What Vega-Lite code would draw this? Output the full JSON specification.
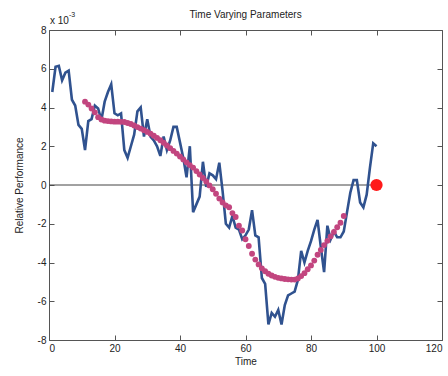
{
  "$schema": "https://vega.github.io/schema/vega-lite/v6.json",
  "width": 393,
  "height": 310,
  "autosize": {"type": "none"},
  "padding": {"left": 49, "top": 30, "right": 6, "bottom": 36},
  "background": "white",
  "config": {
    "font": "Liberation Sans",
    "view": {"stroke": "#555", "strokeWidth": 1},
    "axis": {
      "grid": false, "domain": false, "tickColor": "#555", "tickSize": -5,
      "labelFontSize": 10, "labelColor": "#222", "titleFontSize": 10,
      "titleFontWeight": "normal", "titleColor": "#222", "labelFont": "Liberation Sans", "titleFont": "Liberation Sans"
    }
  },
  "title": {"text": "Time Varying Parameters", "fontSize": 10, "fontWeight": "normal", "offset": -9, "anchor": "middle", "color": "#222", "font": "Liberation Sans"},
  "datasets": {
    "blue": [
      {"t":1,"v":4.8},{"t":2,"v":6.1},{"t":3,"v":6.15},{"t":4,"v":5.4},{"t":5,"v":5.8},{"t":6,"v":5.9},{"t":7,"v":4.4},{"t":8,"v":4.1},{"t":9,"v":3.1},{"t":10,"v":2.9},
      {"t":11,"v":1.8},{"t":12,"v":3.3},{"t":13,"v":3.4},{"t":14,"v":4.1},{"t":15,"v":3.95},{"t":16,"v":3.35},{"t":17,"v":4.3},{"t":18,"v":4.8},{"t":19,"v":5.2},{"t":20,"v":3.7},
      {"t":21,"v":3.6},{"t":22,"v":3.7},{"t":23,"v":1.8},{"t":24,"v":1.4},{"t":25,"v":2.0},{"t":26,"v":2.6},{"t":27,"v":3.8},{"t":28,"v":4.0},{"t":29,"v":2.5},{"t":30,"v":3.4},
      {"t":31,"v":2.5},{"t":32,"v":2.3},{"t":33,"v":2.0},{"t":34,"v":1.5},{"t":35,"v":2.5},{"t":36,"v":1.8},{"t":37,"v":2.3},{"t":38,"v":3.0},{"t":39,"v":3.0},{"t":40,"v":2.2},
      {"t":41,"v":1.4},{"t":42,"v":0.4},{"t":43,"v":2.0},{"t":44,"v":-1.4},{"t":45,"v":-1.0},{"t":46,"v":-0.6},{"t":47,"v":1.2},{"t":48,"v":-0.1},{"t":49,"v":0.6},{"t":50,"v":0.5},
      {"t":51,"v":0.3},{"t":52,"v":1.15},{"t":53,"v":-0.3},{"t":54,"v":-2.0},{"t":55,"v":-2.2},{"t":56,"v":-1.6},{"t":57,"v":-2.2},{"t":58,"v":-2.3},{"t":59,"v":-2.8},{"t":60,"v":-2.6},
      {"t":61,"v":-2.3},{"t":62,"v":-1.3},{"t":63,"v":-2.6},{"t":64,"v":-2.7},{"t":65,"v":-4.8},{"t":66,"v":-5.1},{"t":67,"v":-7.2},{"t":68,"v":-6.6},{"t":69,"v":-6.8},{"t":70,"v":-6.45},
      {"t":71,"v":-7.2},{"t":72,"v":-6.2},{"t":73,"v":-5.7},{"t":74,"v":-5.6},{"t":75,"v":-5.5},{"t":76,"v":-4.9},{"t":77,"v":-3.4},{"t":78,"v":-4.0},{"t":79,"v":-3.4},{"t":80,"v":-2.9},
      {"t":81,"v":-2.3},{"t":82,"v":-1.8},{"t":83,"v":-3.2},{"t":84,"v":-4.5},{"t":85,"v":-2.1},{"t":86,"v":-2.8},{"t":87,"v":-2.4},{"t":88,"v":-2.7},{"t":89,"v":-2.7},{"t":90,"v":-2.4},
      {"t":91,"v":-1.4},{"t":92,"v":-0.4},{"t":93,"v":0.25},{"t":94,"v":0.25},{"t":95,"v":-0.9},{"t":96,"v":-1.15},{"t":97,"v":-0.5},{"t":98,"v":0.9},{"t":99,"v":2.15},{"t":100,"v":2.0}
    ],
    "red": [
      {"t":11,"v":4.3},{"t":12,"v":4.15},{"t":13,"v":3.95},{"t":14,"v":3.75},{"t":15,"v":3.5},{"t":16,"v":3.38},{"t":17,"v":3.32},{"t":18,"v":3.3},{"t":19,"v":3.28},{"t":20,"v":3.27},
      {"t":21,"v":3.27},{"t":22,"v":3.26},{"t":23,"v":3.25},{"t":24,"v":3.2},{"t":25,"v":3.15},{"t":26,"v":3.07},{"t":27,"v":2.99},{"t":28,"v":2.91},{"t":29,"v":2.83},{"t":30,"v":2.74},
      {"t":31,"v":2.65},{"t":32,"v":2.54},{"t":33,"v":2.43},{"t":34,"v":2.31},{"t":35,"v":2.18},{"t":36,"v":2.04},{"t":37,"v":1.9},{"t":38,"v":1.76},{"t":39,"v":1.62},{"t":40,"v":1.47},
      {"t":41,"v":1.32},{"t":42,"v":1.17},{"t":43,"v":1.03},{"t":44,"v":0.9},{"t":45,"v":0.72},{"t":46,"v":0.54},{"t":47,"v":0.36},{"t":48,"v":0.18},{"t":49,"v":-0.02},{"t":50,"v":-0.22},
      {"t":51,"v":-0.45},{"t":52,"v":-0.7},{"t":53,"v":-0.9},{"t":54,"v":-1.05},{"t":55,"v":-1.15},{"t":56,"v":-1.45},{"t":57,"v":-1.65},{"t":58,"v":-2.1},{"t":59,"v":-2.35},{"t":60,"v":-2.8},
      {"t":61,"v":-3.15},{"t":62,"v":-3.55},{"t":63,"v":-3.85},{"t":64,"v":-4.1},{"t":65,"v":-4.3},{"t":66,"v":-4.45},{"t":67,"v":-4.58},{"t":68,"v":-4.67},{"t":69,"v":-4.74},{"t":70,"v":-4.79},
      {"t":71,"v":-4.82},{"t":72,"v":-4.85},{"t":73,"v":-4.87},{"t":74,"v":-4.88},{"t":75,"v":-4.88},{"t":76,"v":-4.82},{"t":77,"v":-4.7},{"t":78,"v":-4.55},{"t":79,"v":-4.35},{"t":80,"v":-4.15},
      {"t":81,"v":-3.9},{"t":82,"v":-3.6},{"t":83,"v":-3.35},{"t":84,"v":-3.1},{"t":85,"v":-2.88},{"t":86,"v":-2.65},{"t":87,"v":-2.42},{"t":88,"v":-2.18},{"t":89,"v":-1.95},{"t":90,"v":-1.6}
    ]
  },
  "resolve": {"axis": {"x": "independent", "y": "independent"}},
  "layer": [
    {
      "data": {"values": [{"t0": 0, "t1": 100, "v": 0}]},
      "mark": {"type": "rule", "color": "#444", "strokeWidth": 1},
      "encoding": {
        "x": {"field": "t0", "type": "quantitative", "scale": {"domain": [0, 120], "nice": false},
              "axis": {"orient": "top", "labels": false, "title": null, "values": [0,20,40,60,80,100,120]}},
        "x2": {"field": "t1"},
        "y": {"field": "v", "type": "quantitative", "scale": {"domain": [-8, 8], "nice": false},
              "axis": {"orient": "right", "labels": false, "title": null, "values": [-8,-6,-4,-2,0,2,4,6,8]}}
      }
    },
    {
      "data": {"name": "blue"},
      "mark": {"type": "line", "color": "#30528f", "strokeWidth": 2.6},
      "encoding": {
        "x": {"field": "t", "type": "quantitative",
              "axis": {"orient": "bottom", "title": "Time", "values": [0,20,40,60,80,100,120], "labelPadding": 8, "titlePadding": 3}},
        "y": {"field": "v", "type": "quantitative",
              "axis": {"orient": "left", "title": "Relative Performance", "values": [-8,-6,-4,-2,0,2,4,6,8], "labelPadding": 8, "titlePadding": 13,
                       "labelExpr": "datum.value < 0 ? '-' + abs(datum.value) : '' + datum.value"}}
      }
    },
    {
      "data": {"name": "red"},
      "mark": {"type": "circle", "color": "#c2457f", "size": 34, "opacity": 1},
      "encoding": {
        "x": {"field": "t", "type": "quantitative", "axis": null},
        "y": {"field": "v", "type": "quantitative", "axis": null}
      }
    },
    {
      "data": {"values": [{"t": 100, "v": 0}]},
      "mark": {"type": "circle", "color": "#ff1a1a", "size": 150, "opacity": 1},
      "encoding": {
        "x": {"field": "t", "type": "quantitative", "axis": null},
        "y": {"field": "v", "type": "quantitative", "axis": null}
      }
    },
    {
      "data": {"values": [{"t": 0, "v": 8, "label": "x 10"}]},
      "mark": {"type": "text", "align": "left", "baseline": "alphabetic", "dx": 1, "dy": -6, "fontSize": 10, "color": "#222", "clip": false},
      "encoding": {
        "x": {"field": "t", "type": "quantitative", "axis": null},
        "y": {"field": "v", "type": "quantitative", "axis": null},
        "text": {"field": "label"}
      }
    },
    {
      "data": {"values": [{"t": 0, "v": 8, "label": "-3"}]},
      "mark": {"type": "text", "align": "left", "baseline": "alphabetic", "dx": 20, "dy": -13, "fontSize": 7, "color": "#222", "clip": false},
      "encoding": {
        "x": {"field": "t", "type": "quantitative", "axis": null},
        "y": {"field": "v", "type": "quantitative", "axis": null},
        "text": {"field": "label"}
      }
    }
  ]
}
